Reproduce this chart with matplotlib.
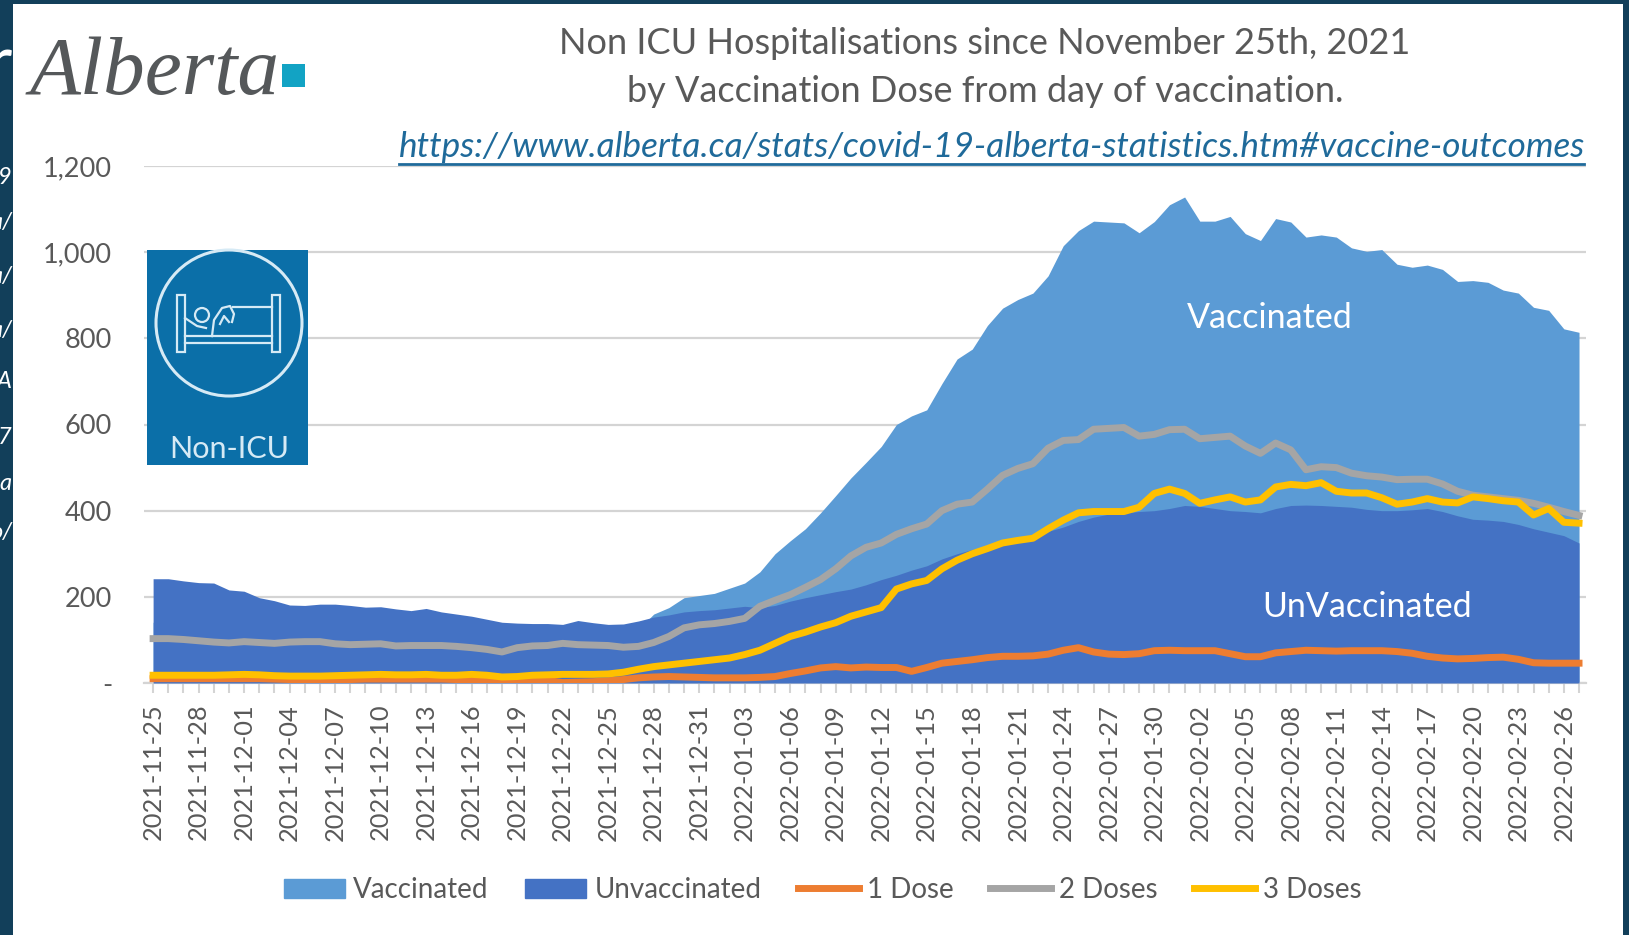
import matplotlib
matplotlib.use("Agg")
import matplotlib.pyplot as plt
import numpy as np
import pandas as pd
from matplotlib.lines import Line2D
from matplotlib.patches import Circle, Patch, Rectangle

W, H = 1629, 935
FONT = "Lato"
TXT = "#595959"

start_date = "2021-11-25"
n_days = 95

vaccinated = [141, 141, 139, 135, 133, 131, 134, 132, 130, 133,
              134, 134, 129, 127, 128, 129, 124, 125, 125, 125,
              123, 120, 116, 108, 118, 122, 123, 128, 125, 124,
              122, 122, 125, 160, 175, 198, 203, 208, 220, 232,
              258, 300, 330, 358, 395, 435, 476, 512, 549, 600,
              620, 634, 695, 752, 775, 830, 870, 890, 905, 945,
              1015, 1050, 1072, 1070, 1068, 1045, 1071, 1110, 1128, 1072,
              1072, 1083, 1043, 1027, 1078, 1070, 1035, 1040, 1035, 1010,
              1002, 1006, 972, 965, 970, 960, 932, 934, 930, 912,
              905, 872, 865, 822, 814]
unvaccinated = [242, 242, 237, 233, 232, 216, 213, 198, 191, 181,
                180, 183, 183, 180, 176, 177, 172, 168, 173, 165,
                160, 155, 148, 141, 139, 138, 138, 136, 145, 140,
                136, 137, 144, 153, 158, 165, 168, 170, 174, 178,
                175, 180, 190, 198, 205, 212, 218, 228, 240, 250,
                262, 272, 288, 300, 310, 315, 325, 335, 345, 352,
                362, 375, 385, 392, 395, 398, 400, 405, 412, 410,
                405, 400, 398, 395, 405, 412, 413, 412, 410, 408,
                403, 400, 400, 402, 405, 398, 388, 380, 378, 375,
                368, 358, 350, 342, 325]
dose1 = [10, 10, 10, 10, 10, 10, 10, 10, 9, 8,
         8, 8, 8, 8, 9, 9, 9, 9, 9, 9,
         8, 8, 7, 6, 7, 7, 6, 1, 2, 3,
         5, 8, 12, 14, 15, 14, 13, 12, 12, 12,
         13, 15, 22, 28, 35, 38, 35, 37, 36, 36,
         27, 36, 46, 50, 54, 59, 62, 62, 63, 67,
         76, 82, 72, 67, 66, 68, 75, 76, 75, 75,
         75, 68, 61, 61, 70, 73, 76, 75, 74, 75,
         75, 75, 73, 69, 62, 58, 56, 57, 59, 60,
         55, 47, 46, 46, 46]
dose2 = [103, 103, 101, 98, 95, 93, 96, 94, 92, 95,
         96, 96, 91, 89, 90, 91, 86, 87, 87, 87,
         85, 82, 78, 72, 82, 86, 87, 92, 89, 88,
         87, 83, 85, 94, 108, 128, 135, 138, 143, 150,
         178, 192, 205, 222, 240, 265, 295, 315, 325, 345,
         358, 369, 400, 415, 420, 450, 482, 498, 509, 545,
         563, 565, 589, 591, 593, 573, 577, 588, 589, 567,
         570, 573, 550, 533, 557, 541, 495, 502, 500, 487,
         481, 478, 472, 473, 473, 462, 445, 436, 432, 428,
         424, 417, 408, 398, 389]
dose3 = [18, 18, 18, 18, 18, 19, 20, 19, 17, 16,
         16, 16, 17, 18, 19, 20, 19, 19, 20, 18,
         18, 20, 18, 14, 15, 18, 19, 20, 20, 20,
         21, 25, 32, 38, 42, 46, 50, 54, 58, 66,
         76, 92, 108, 118, 130, 140, 155, 165, 175, 218,
         230, 238, 265, 285, 300, 312, 325, 331, 336, 358,
         378, 395, 398, 398, 398, 408, 440, 450, 440, 417,
         425, 432, 420, 425, 455, 461, 458, 465, 445, 441,
         441, 430, 415, 420, 428, 420, 418, 432, 428, 423,
         420, 390, 405, 373, 371]

y_ticks = [0, 200, 400, 600, 800, 1000, 1200]
y_labels = ["-", "200", "400", "600", "800", "1,000", "1,200"]
# fragments of the slide text sticking out behind the chart panel
slide_bits = [("9", 178), ("a/", 223), ("a/", 277), ("a/", 330), ("A", 382), ("7", 437), ("a", 484), ("o/", 532)]

days = np.arange(n_days)
dates = pd.date_range(start_date, periods=n_days).strftime("%Y-%m-%d")

fig = plt.figure(figsize=(W / 100, H / 100), dpi=100, facecolor="#123f5a")
plt.rcParams["font.family"] = FONT


def px_rect(x0, y0, x1, y1):
    return [x0 / W, 1 - y1 / H, (x1 - x0) / W, (y1 - y0) / H]


# Background panel and the leftover slide text
bg = fig.add_axes([0, 0, 1, 1], zorder=0)
bg.set_xlim(0, W)
bg.set_ylim(H, 0)
bg.axis("off")
bg.add_patch(Rectangle((13, 4), 1610, H, fc="white", ec="none"))
bg.text(12, 66, "r", color="white", fontsize=52, ha="right", va="center")
for s, y in slide_bits:
    bg.text(12, y, s, color="white", fontsize=17, style="italic", ha="right", va="center")

# Main chart
ax = fig.add_axes(px_rect(144, 166, 1586, 683), zorder=1)
ax.patch.set_alpha(0)
ax.set_xlim(-0.6, 94.46)
ax.set_ylim(0, 1200)
ax.fill_between(days, vaccinated, color="#5b9bd5", lw=0, zorder=2)
ax.fill_between(days, unvaccinated, color="#4472c4", lw=0, zorder=3)
ax.plot(days, dose1, color="#ed7d31", lw=5, zorder=4, solid_joinstyle="round")
ax.plot(days, dose2, color="#a5a5a5", lw=5, zorder=5, solid_joinstyle="round")
ax.plot(days, dose3, color="#ffc000", lw=5, zorder=6, solid_joinstyle="round")

ax.set_yticks(y_ticks)
ax.set_yticklabels(y_labels)
ax.grid(axis="y", color="#d4d4d4", lw=1.6, zorder=1)
ax.set_axisbelow(True)
ax.set_xticks(days[::3])
ax.set_xticklabels(dates[::3], rotation=90)
ax.set_xticks(days, minor=True)
ax.tick_params(axis="y", length=0, labelsize=19.5, labelcolor=TXT, pad=23)
ax.tick_params(axis="x", which="major", length=7, width=1.5, color="#d4d4d4", labelsize=18.3, labelcolor=TXT, pad=8)
ax.tick_params(axis="x", which="minor", length=7, width=1.5, color="#d4d4d4")
for side in ["top", "right", "left"]:
    ax.spines[side].set_visible(False)
ax.spines["bottom"].set_color("#d4d4d4")
ax.spines["bottom"].set_linewidth(1.6)

# Overlay in pixel coordinates for title, logo, icon
ov = fig.add_axes([0, 0, 1, 1], zorder=2)
ov.set_xlim(0, W)
ov.set_ylim(H, 0)
ov.axis("off")
ov.text(985, 44, "Non ICU Hospitalisations since November 25th, 2021", color=TXT, fontsize=26, ha="center", va="center")
ov.text(985, 91, "by Vaccination Dose from day of vaccination.", color=TXT, fontsize=26, ha="center", va="center")
ov.text(992, 147, "https://www.alberta.ca/stats/covid-19-alberta-statistics.htm#vaccine-outcomes",
        color="#1f6a9a", fontsize=25.3, style="italic", ha="center", va="center")
ov.plot([399, 1584], [164, 164], color="#1f6a9a", lw=2)

ov.text(1270, 318, "Vaccinated", color="white", fontsize=24.5, ha="center", va="center")
ov.text(1367, 607, "UnVaccinated", color="white", fontsize=24.5, ha="center", va="center")

# Logo
ov.text(30, 94, "Alberta", color="#55585a", fontsize=60, family="Liberation Serif", style="italic", ha="left", va="baseline")
ov.add_patch(Rectangle((282, 64), 23, 23, fc="#12a3c4", ec="none"))

# Non-ICU icon
icon = "#d6eaf5"
ov.add_patch(Rectangle((147, 250), 161, 215, fc="#0b6fa8", ec="none"))
ov.add_patch(Circle((229, 323), 73, fc="none", ec=icon, lw=2.2))
ov.add_patch(Rectangle((177, 295), 8, 57, fc="none", ec=icon, lw=1.6))
ov.add_patch(Rectangle((272, 295), 8, 57, fc="none", ec=icon, lw=1.6))
ov.plot([185, 272], [343, 343], color=icon, lw=1.6)
ov.plot([212, 272], [336, 336], color=icon, lw=1.6)
ov.plot([233, 272], [307, 307], color=icon, lw=1.6)
ov.plot([185, 212], [336, 336], color=icon, lw=1.6)
ov.plot([185, 197, 206], [318, 326, 328], color=icon, lw=1.6)
ov.add_patch(Circle((202, 315), 7, fc="none", ec=icon, lw=1.6))
ov.plot([212, 214, 222, 230, 234, 232], [336, 320, 308, 306, 314, 322], color=icon, lw=1.6)
ov.plot([220, 224, 229], [324, 316, 322], color=icon, lw=1.6)
ov.text(229, 449, "Non-ICU", color=icon, fontsize=22, ha="center", va="center")

# Legend
handles = [Patch(color="#5b9bd5"), Patch(color="#4472c4"),
           Line2D([], [], color="#ed7d31", lw=5), Line2D([], [], color="#a5a5a5", lw=5), Line2D([], [], color="#ffc000", lw=5)]
labels = ["Vaccinated", "Unvaccinated", "1 Dose", "2 Doses", "3 Doses"]
fig.legend(handles, labels, loc="center", bbox_to_anchor=(823 / W, 1 - 890 / H), ncol=5, frameon=False,
           fontsize=20, labelcolor=TXT, handlelength=2.2, handleheight=0.7, handletextpad=0.3, columnspacing=1.3)

fig.savefig("out.png", dpi=100)
